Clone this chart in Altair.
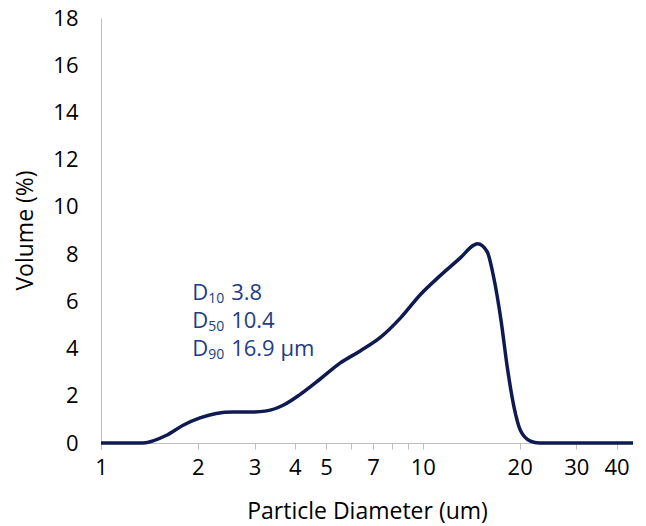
import altair as alt
import pandas as pd

# Particle size distribution curve
diameter = [1.0, 1.35, 1.6, 1.8, 2.03, 2.28, 2.57, 2.9, 3.27, 3.68, 4.15, 4.79, 5.53,
            6.39, 7.38, 8.53, 9.85, 11.35, 13.1, 14.4, 14.8, 15.85, 16.6, 17.5, 18.3,
            19.2, 20.1, 21.6, 23.0, 45.0]
volume = [0, 0, 0.33, 0.75, 1.06, 1.25, 1.31, 1.31, 1.36, 1.6, 2.05, 2.7, 3.38,
          3.9, 4.47, 5.3, 6.3, 7.1, 7.85, 8.38, 8.44, 8.1, 7.03, 5.2, 3.22,
          1.53, 0.54, 0.08, 0, 0]

x_ticks = [1, 2, 3, 4, 5, 6, 7, 8, 9, 10, 20, 30, 40]
y_ticks = [0, 2, 4, 6, 8, 10, 12, 14, 16, 18]

# Annotation
ann_sub = ["10", "50", "90"]
ann_val = ["3.8", "10.4", "16.9 µm"]
ann_y = [6.34, 5.15, 3.97]
ann_x = [1.92, 1.92, 1.92]

FONT = "Open Sans"
LINE = "#0f1b50"
TXT = "#213c86"

df = pd.DataFrame({"d": diameter, "v": volume})
ann = pd.DataFrame({"x": ann_x, "y": ann_y, "sub": ann_sub, "val": ann_val,
                    "D": ["D"] * 3})

xscale = alt.Scale(type="log", domain=[1, 45], nice=False)
yscale = alt.Scale(domain=[0, 18], nice=False)

line = alt.Chart(df).mark_line(color=LINE, strokeWidth=3.5, interpolate="monotone").encode(
    x=alt.X("d:Q", scale=xscale,
            axis=alt.Axis(title="Particle Diameter (um)", values=x_ticks,
                          labelExpr="indexof([6,8,9], datum.value) >= 0 ? '' : datum.label",
                          format="d", grid=False, domainColor="#bfbfbf", tickColor="#bfbfbf",
                          tickSize=6, labelPadding=8, labelFontSize=22, labelFont=FONT,
                          labelColor="#000000", labelFlush=False, labelOverlap=False,
                          titleFont=FONT, titleFontSize=23, titleFontWeight="normal",
                          titleColor="#000000", titleY=68, titleBaseline="middle")),
    y=alt.Y("v:Q", scale=yscale,
            axis=alt.Axis(title="Volume (%)", values=y_ticks, grid=False,
                          domainColor="#bfbfbf", ticks=False, tickSize=0, labelPadding=23,
                          labelFontSize=22, labelFont=FONT, labelColor="#000000",
                          labelFlush=False, labelOverlap=False,
                          titleFont=FONT, titleFontSize=23, titleFontWeight="normal",
                          titleColor="#000000", titleX=-76, titleY=212,
                          titleAlign="center", titleBaseline="middle", titleAngle=-90)),
)

base = alt.Chart(ann).encode(x=alt.X("x:Q", scale=xscale), y=alt.Y("y:Q", scale=yscale))
t_d = base.mark_text(align="left", baseline="middle", font=FONT, fontSize=22,
                     color=TXT).encode(text="D:N")
t_sub = base.mark_text(align="left", baseline="middle", font=FONT, fontSize=14,
                       color=TXT, dx=16, dy=6).encode(text="sub:N")
t_val = base.mark_text(align="left", baseline="middle", font=FONT, fontSize=22,
                       color=TXT, dx=39).encode(text="val:N")

chart = alt.layer(line, t_d, t_sub, t_val).properties(
    width=532, height=425,
    autosize=alt.AutoSizeParams(type="none"),
    padding={"left": 101, "top": 18, "right": 13, "bottom": 83},
    background="#ffffff",
).configure_view(stroke=None)

chart.save("out.html", embed_options={"renderer": "svg", "actions": False})
